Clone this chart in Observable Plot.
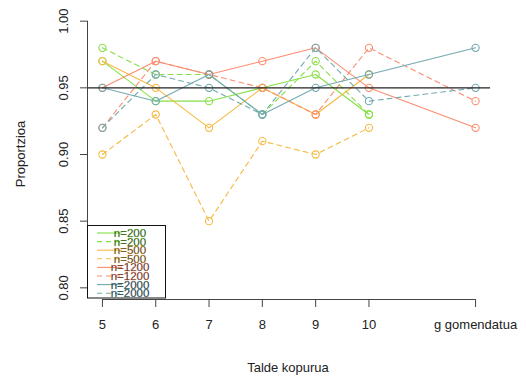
<!DOCTYPE html>
<html>
<head>
<meta charset="utf-8">
<script src="https://cdn.jsdelivr.net/npm/d3@7"></script>
<script src="https://cdn.jsdelivr.net/npm/@observablehq/plot@0.6"></script>
<style>
  html, body { margin: 0; padding: 0; background: #fff; }
  #chart { width: 526px; height: 383px; }
</style>
</head>
<body>
<div id="chart"></div>
<script>
// x positions (group counts); 12 stands for "g gomendatua"
const xPos = [5, 6, 7, 8, 9, 10, 12];
const xTickLabels = ["5", "6", "7", "8", "9", "10", "g gomendatua"];
const yTicks = [0.80, 0.85, 0.90, 0.95, 1.00];
const refLine = [0.95];

const n200Solid  = [0.97, 0.94, 0.94, 0.95, 0.96, 0.93];
const n200Dash   = [0.98, 0.96, 0.96, 0.93, 0.97, 0.93];
const n500Solid  = [0.97, 0.95, 0.92, 0.95, 0.93, 0.96];
const n500Dash   = [0.90, 0.93, 0.85, 0.91, 0.90, 0.92];
const n1200Solid = [0.95, 0.97, 0.96, 0.97, 0.98, 0.95, 0.92];
const n1200Dash  = [0.92, 0.97, 0.96, 0.95, 0.93, 0.98, 0.94];
const n2000Solid = [0.95, 0.94, 0.96, 0.93, 0.95, 0.96, 0.98];
const n2000Dash  = [0.92, 0.96, 0.95, 0.93, 0.98, 0.94, 0.95];

const seriesNames = ["n=200", "n=200", "n=500", "n=500", "n=1200", "n=1200", "n=2000", "n=2000"];
const seriesColors = ["#86e046", "#86e046", "#f6b93f", "#f6b93f", "#fb8d6e", "#fb8d6e", "#72aab0", "#72aab0"];
const seriesDashed = [false, true, false, true, false, true, false, true];
const seriesValues = [n200Solid, n200Dash, n500Solid, n500Dash, n1200Solid, n1200Dash, n2000Solid, n2000Dash];

const series = seriesValues.map((vals, i) => ({
  key: i,
  color: seriesColors[i],
  dashed: seriesDashed[i],
  data: vals.map((v, j) => ({x: xPos[j], y: v}))
}));

const xDomain = [4.72, 12.28];
const yDomain = [0.792, 1.008];
const font = "Liberation Sans, Arial, sans-serif";

const marks = [];
for (const s of series) {
  marks.push(Plot.line(s.data, {x: "x", y: "y", stroke: s.color, strokeWidth: 1.1,
    strokeDasharray: s.dashed ? "5,4" : null}));
  marks.push(Plot.dot(s.data, {x: "x", y: "y", r: 3.6, stroke: s.color, strokeWidth: 1.1, fill: "none"}));
}
marks.push(Plot.ruleY(refLine, {stroke: "#222", strokeWidth: 1.1}));
// axis lines
marks.push(Plot.ruleY([yDomain[0]], {x1: xPos[0], x2: xPos[xPos.length - 1], stroke: "#444", dy: 1}));
marks.push(Plot.ruleX([xDomain[0]], {y1: yTicks[0], y2: yTicks[yTicks.length - 1], stroke: "#444"}));
// axes
marks.push(Plot.axisX(xPos, {tickSize: 8, tickPadding: 12, tickFormat: (d) => xTickLabels[xPos.indexOf(d)],
  fontSize: 13, stroke: "#444", fill: "#222", dy: 1, label: null}));
marks.push(Plot.axisY(yTicks, {tickSize: 7, tickFormat: () => "", stroke: "#444", label: null}));
marks.push(Plot.text(yTicks, {y: (d) => d, text: (d) => d.toFixed(2), frameAnchor: "left", dx: -24,
  rotate: -90, textAnchor: "middle", fontSize: 13, fill: "#222"}));

const plot = Plot.plot({
  width: 526,
  height: 383,
  marginLeft: 87,
  marginRight: 36,
  marginTop: 10,
  marginBottom: 85,
  x: {domain: xDomain, axis: null},
  y: {domain: yDomain, axis: null},
  style: {fontFamily: font, background: "#fff"},
  marks
});

const svg = d3.select(plot);
// axis titles
svg.append("text").attr("x", 288).attr("y", 372).attr("text-anchor", "middle")
  .attr("font-size", 13).attr("font-family", font).attr("fill", "#222").text("Talde kopurua");
svg.append("text").attr("transform", "translate(25,154) rotate(-90)").attr("text-anchor", "middle")
  .attr("font-size", 13).attr("font-family", font).attr("fill", "#222").text("Proportzioa");

// legend
const lg = svg.append("g");
lg.append("rect").attr("x", 87.5).attr("y", 225.5).attr("width", 78).attr("height", 72.5)
  .attr("fill", "#fff").attr("stroke", "#111").attr("stroke-width", 1);
seriesNames.forEach((name, i) => {
  const y = 233 + i * 8.6;
  lg.append("line").attr("x1", 97).attr("x2", 122).attr("y1", y).attr("y2", y)
    .attr("stroke", seriesColors[i]).attr("stroke-width", 1.1)
    .attr("stroke-dasharray", seriesDashed[i] ? "5,4" : null);
  lg.append("text").attr("x", 130).attr("y", y + 4).attr("font-size", 11.5).attr("font-family", font)
    .attr("fill", "#111").attr("stroke", seriesColors[i]).attr("stroke-width", 0.35)
    .attr("stroke-opacity", 0.8).text(name);
});

document.getElementById("chart").appendChild(plot);
</script>
</body>
</html>
